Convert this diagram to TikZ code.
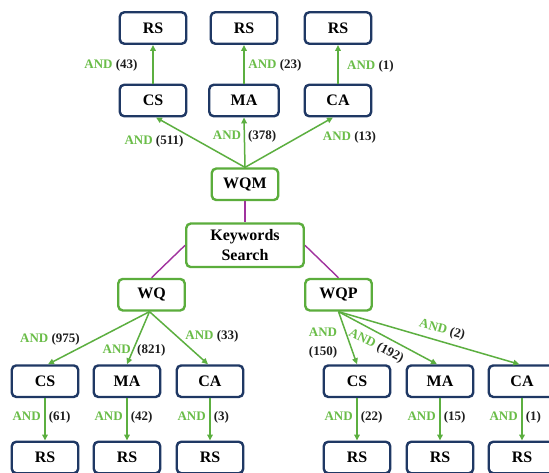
\documentclass[tikz,border=0pt]{standalone}
\usepackage{fontspec}
\setmainfont{Liberation Serif}
\newfontfamily\diagfont{Liberation Serif}
\usetikzlibrary{arrows.meta}

\definecolor{navy}{HTML}{1F3864}
\definecolor{boxgreen}{HTML}{5BAD3C}
\definecolor{linkgreen}{HTML}{5CAF40}
\definecolor{andgreen}{HTML}{6ABD48}
\definecolor{linkpurple}{HTML}{A0329E}
\definecolor{numdark}{HTML}{1E1E1E}

% green "AND" followed by a count
\newcommand\andnum[1]{{\color{andgreen}AND} (#1)}

\begin{document}
\begin{tikzpicture}[x=1pt,y=-1pt,
  box/.style={draw, rounded corners=4.5pt, line width=2.4pt, fill=white,
    font=\diagfont\fontsize{16}{20}\selectfont\bfseries, text=black, inner sep=0pt,
    minimum width=66.5pt, minimum height=31.5pt, align=center},
  attr/.style={box, draw=navy},
  query/.style={box, draw=boxgreen},
  arr/.style={draw=linkgreen, line width=1.5pt, -{Triangle[length=6pt,width=5.5pt]}},
  tie/.style={draw=linkpurple, line width=1.4pt},
  lbl/.style={font=\diagfont\fontsize{13}{19}\selectfont\bfseries, text=numdark,
    inner sep=0pt, text height=9pt, text depth=3pt},
  andlbl/.style={lbl, text=andgreen},
]
\clip (0,0) rectangle (549,473);
\fill[white] (0,0) rectangle (549,473);

% ---- upper branch ----
\node[attr] (rs1t) at (153,28) {RS};
\node[attr] (rs2t) at (244,28) {RS};
\node[attr] (rs3t) at (338,28) {RS};
\node[attr] (cst) at (153,100.5) {CS};
\node[attr, minimum width=69.5pt] (mat) at (244,100.5) {MA};
\node[attr] (cat) at (338,100.5) {CA};

\node[query] (wqm) at (245,184.3) {WQM};
\node[query, minimum width=117.5pt, minimum height=43.5pt] (ks) at (245,245.3) {Keywords\\Search};
\node[query] (wq) at (151.5,294.7) {WQ};
\node[query] (wqp) at (338.5,294.7) {WQP};

% ---- lower left branch ----
\node[attr] (csl) at (45,381.2) {CS};
\node[attr] (mal) at (127,381.2) {MA};
\node[attr] (cal) at (210,381.2) {CA};
\node[attr] (rs1l) at (45,457.5) {RS};
\node[attr] (rs2l) at (127,457.5) {RS};
\node[attr] (rs3l) at (210,457.5) {RS};

% ---- lower right branch ----
\node[attr] (csr) at (357,381.2) {CS};
\node[attr] (mar) at (440,381.2) {MA};
\node[attr] (car) at (522,381.2) {CA};
\node[attr] (rs1r) at (357,457.5) {RS};
\node[attr] (rs2r) at (440,457.5) {RS};
\node[attr] (rs3r) at (522,457.5) {RS};

% purple ties around the keyword search
\draw[tie] (wqm.south) -- (ks.north);
\draw[tie] (ks.west) -- (wq.north);
\draw[tie] (ks.east) -- (wqp.north);

% upper arrows
\draw[arr] (wqm.north) -- ([xshift=3pt]cst.south);
\draw[arr] (wqm.north) -- (mat.south)
  node[andlbl, pos=0.62, anchor=east, xshift=-2.5pt] {AND}
  node[lbl, pos=0.62, anchor=west, xshift=3pt] {(378)};
\draw[arr] (wqm.north) -- ([xshift=-5pt]cat.south);
\draw[arr] (cst.north) -- (rs1t.south);
\draw[arr] (mat.north) -- (rs2t.south);
\draw[arr] (cat.north) -- (rs3t.south);

\node[lbl] at (111,65.3) {\andnum{43}};
\node[lbl] at (275,65.3) {\andnum{23}};
\node[lbl] at (370.5,66.3) {\andnum{1}};
\node[lbl] at (154,141.8) {\andnum{511}};
\node[lbl] at (349.5,137.3) {\andnum{13}};

% lower left arrows
\draw[arr] ([xshift=-2pt]wq.south) -- ([xshift=3pt]csl.north);
\draw[arr] ([xshift=-2pt]wq.south) -- (mal.north);
\draw[arr] ([xshift=-2pt]wq.south) -- ([xshift=-2pt]cal.north);
\node[lbl] at (50,339.3) {\andnum{975}};
\node[andlbl, anchor=east] at (131,350.3) {AND};
\node[lbl, anchor=west] at (137,350.3) {(821)};
\node[lbl] at (212,336.3) {\andnum{33}};

% lower right arrows
\draw[arr] (wqp.south) -- (csr.north);
\draw[arr] (wqp.south) -- ([xshift=-3pt]mar.north);
\draw[arr] (wqp.south) -- ([xshift=-2.7pt]car.north);
\node[lbl, align=center, text height=, text depth=] at (323,343) {{\color{andgreen}AND}\\(150)};
\node[lbl, rotate=-27] at (376,346) {\andnum{192}};
\node[lbl, rotate=-15] at (442,330) {\andnum{2}};

% vertical arrows to the result sets
\foreach \a/\b/\n in {csl/rs1l/61, mal/rs2l/42, cal/rs3l/3,
                       csr/rs1r/22, mar/rs2r/15, car/rs3r/1}{
  \draw[arr] (\a.south) -- (\b.north)
    node[andlbl, pos=0.46, anchor=east, xshift=-3.5pt] {AND}
    node[lbl, pos=0.46, anchor=west, xshift=3pt] {(\n)};
}
\end{tikzpicture}
\end{document}
